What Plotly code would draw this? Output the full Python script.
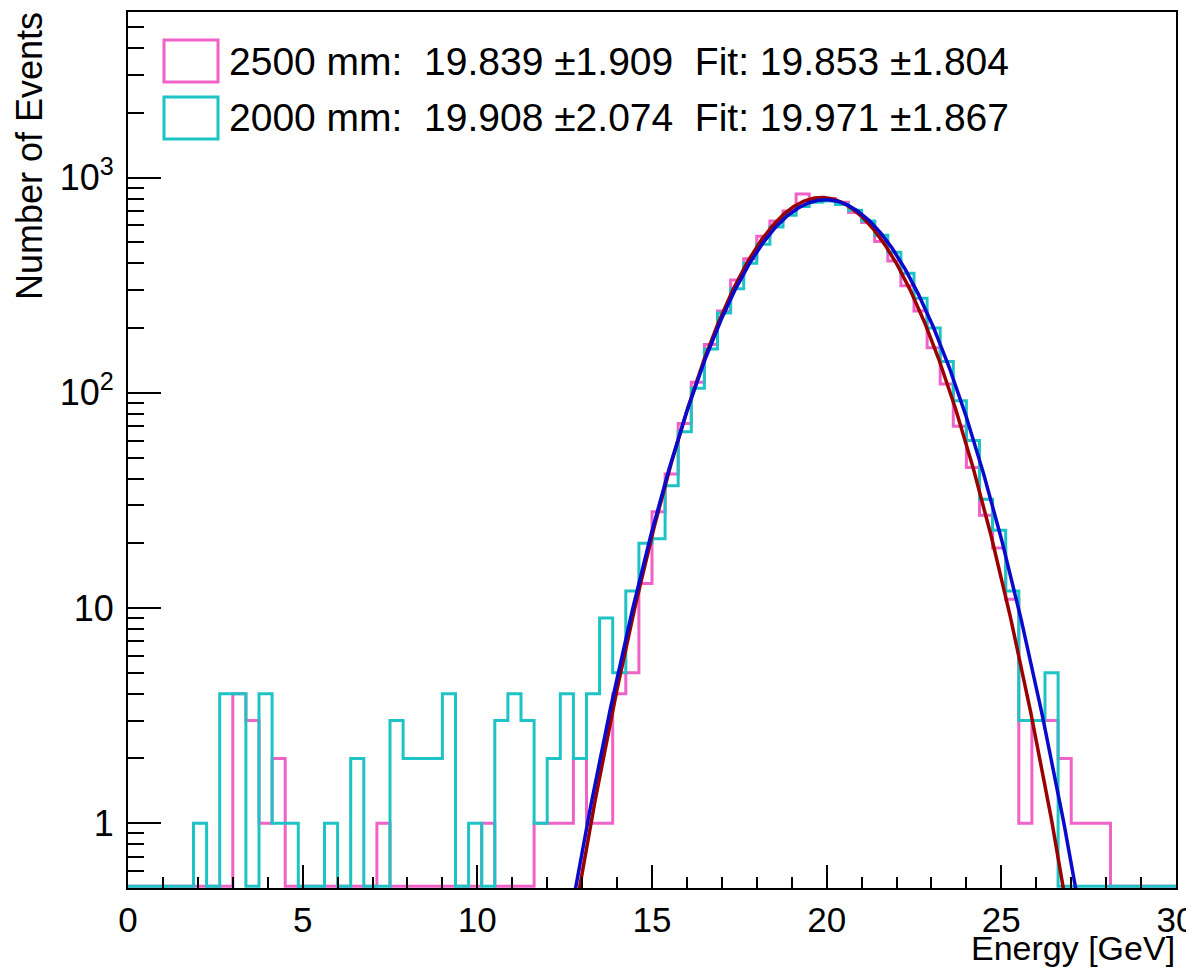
import numpy as np
import plotly.graph_objects as go

# ---------------- data ----------------
BIN_LO, BIN_HI, NBINS = 0.0, 30.0, 80

counts_2500 = [
    0, 0, 0, 0, 0, 0, 0, 0, 4, 3,
    1, 2, 0, 0, 0, 0, 0, 0, 0, 1,
    0, 0, 0, 0, 0, 0, 0, 1, 0, 0,
    0, 1, 1, 1, 2, 1, 1, 4, 5, 13,
    28, 42, 72, 112, 168, 240, 335, 420, 535, 630,
    700, 840, 800, 800, 770, 690, 620, 505, 410, 315,
    240, 162, 110, 70, 45, 27, 19, 11, 1, 3,
    3, 2, 1, 1, 1, 0, 0, 0, 0, 0,
]
counts_2000 = [
    0, 0, 0, 0, 0, 1, 0, 4, 4, 0,
    4, 1, 1, 0, 0, 1, 0, 2, 0, 0,
    3, 2, 2, 2, 4, 0, 1, 0, 3, 4,
    3, 1, 2, 4, 2, 4, 9, 5, 12, 20,
    21, 37, 66, 105, 160, 235, 305, 400, 490, 590,
    670, 735, 770, 780, 750, 705, 630, 540, 450, 360,
    275, 200, 140, 92, 60, 32, 23, 12, 3, 3,
    5, 0, 0, 0, 0, 0, 0, 0, 0, 0,
]

fit_2500 = {"amp": 809.0, "mean": 19.853, "sigma": 1.804}
fit_2000 = {"amp": 790.0, "mean": 19.971, "sigma": 1.867}

legend_labels = [
    "2500 mm:\u00a0\u00a019.839 \u00b11.909\u00a0\u00a0Fit: 19.853 \u00b11.804",
    "2000 mm:\u00a0\u00a019.908 \u00b12.074\u00a0\u00a0Fit: 19.971\u00a0\u00b11.867",
]

x_tickvals = [0, 5, 10, 15, 20, 25, 30]
y_tickvals = [1, 10, 100, 1000]
y_ticktext = ["1", "10", "10<sup>2</sup>", "10<sup>3</sup>"]

# ---------------- style ----------------
PINK = "#f062c8"
CYAN = "#1ec3c6"
DARKRED = "#9a0000"
BLUE = "#0a0acc"
FONT = "Liberation Sans, Arial, sans-serif"

# the page body has an 8px margin: work in page pixels, convert to figure pixels
OFF = 8
W, H = 1194, 960
PL, PR, PT, PB = 128, 1176, 12, 888          # plot frame in page pixels
ML, MR, MT, MB = PL - OFF, W - (PR - OFF), PT - OFF, H - (PB - OFF)
YMIN, YMAX = 0.5, 5890.0
YFLOOR = 0.51  # empty bins drawn on the axis floor (ROOT style)

edges = np.linspace(BIN_LO, BIN_HI, NBINS + 1)


def step_y(vals):
    v = np.maximum(np.asarray(vals, dtype=float), YFLOOR)
    return np.append(v, v[-1])


def gauss(x, p):
    return p["amp"] * np.exp(-0.5 * ((x - p["mean"]) / p["sigma"]) ** 2)


xf = np.linspace(BIN_LO, BIN_HI, 1201)

fig = go.Figure()
fig.add_trace(go.Scatter(x=edges, y=step_y(counts_2500), mode="lines",
                         line=dict(color=PINK, width=3, shape="hv"), hoverinfo="skip"))
fig.add_trace(go.Scatter(x=edges, y=step_y(counts_2000), mode="lines",
                         line=dict(color=CYAN, width=3, shape="hv"), hoverinfo="skip"))
fig.add_trace(go.Scatter(x=xf, y=gauss(xf, fit_2500), mode="lines",
                         line=dict(color=DARKRED, width=3.5), hoverinfo="skip"))
fig.add_trace(go.Scatter(x=xf, y=gauss(xf, fit_2000), mode="lines",
                         line=dict(color=BLUE, width=3.5), hoverinfo="skip"))

PW = PR - PL
PH = PB - PT


def px2paper(px, py):
    """page pixel -> paper fraction"""
    return (px - PL) / PW, (PB - py) / PH


# legend (manual, ROOT TLegend style)
legend_rows = [(PINK, 40, 82, 61), (CYAN, 97, 139, 118)]
for (col, ytop, ybot, ymid), label in zip(legend_rows, legend_labels):
    x0, y0 = px2paper(164, ybot)
    x1, y1 = px2paper(218, ytop)
    fig.add_shape(type="rect", xref="paper", yref="paper", x0=x0, y0=y0, x1=x1, y1=y1,
                  line=dict(color=col, width=3), fillcolor="rgba(0,0,0,0)")
    tx, ty = px2paper(227, ymid)
    fig.add_annotation(xref="paper", yref="paper", x=tx, y=ty, xanchor="left", yanchor="middle",
                       text=label, showarrow=False, font=dict(family=FONT, size=39, color="black"))

# axis titles (ROOT aligns them to the axis end)
ax, ay = px2paper(30, 10)
fig.add_annotation(xref="paper", yref="paper", x=ax, y=ay, xanchor="center", yanchor="top",
                   text="Number of Events", textangle=-90, showarrow=False,
                   font=dict(family=FONT, size=36, color="black"))
bx, by = px2paper(1177, 948)
fig.add_annotation(xref="paper", yref="paper", x=bx, y=by, xanchor="right", yanchor="middle",
                   text="Energy [GeV]", showarrow=False,
                   font=dict(family=FONT, size=34, color="black"))

fig.update_layout(
    width=W, height=H, autosize=False,
    margin=dict(l=ML, r=MR, t=MT, b=MB, autoexpand=False),
    paper_bgcolor="white", plot_bgcolor="white",
    showlegend=False,
    font=dict(family=FONT, size=36, color="black"),
)
fig.update_xaxes(
    range=[BIN_LO, BIN_HI], showgrid=False, zeroline=False, automargin=False,
    showline=True, linecolor="black", linewidth=2, mirror=True,
    ticks="inside", ticklen=23, tickwidth=2, tickcolor="black",
    tickvals=x_tickvals, ticktext=[str(v) for v in x_tickvals],
    tickfont=dict(family=FONT, size=35), ticklabeloverflow="allow",
    minor=dict(ticks="inside", ticklen=11, tickwidth=2, tickcolor="black", dtick=1, showgrid=False),
)
fig.update_yaxes(
    type="log", range=[np.log10(YMIN), np.log10(YMAX)], showgrid=False, zeroline=False,
    automargin=False,
    showline=True, linecolor="black", linewidth=2, mirror=True,
    ticks="inside", ticklen=33, tickwidth=2, tickcolor="black",
    tickvals=y_tickvals, ticktext=y_ticktext, ticklabelstandoff=5,
    tickfont=dict(family=FONT, size=36), ticklabeloverflow="allow",
    minor=dict(ticks="inside", ticklen=16, tickwidth=2, tickcolor="black", dtick="D1", showgrid=False),
)

fig.write_html("out.html")
